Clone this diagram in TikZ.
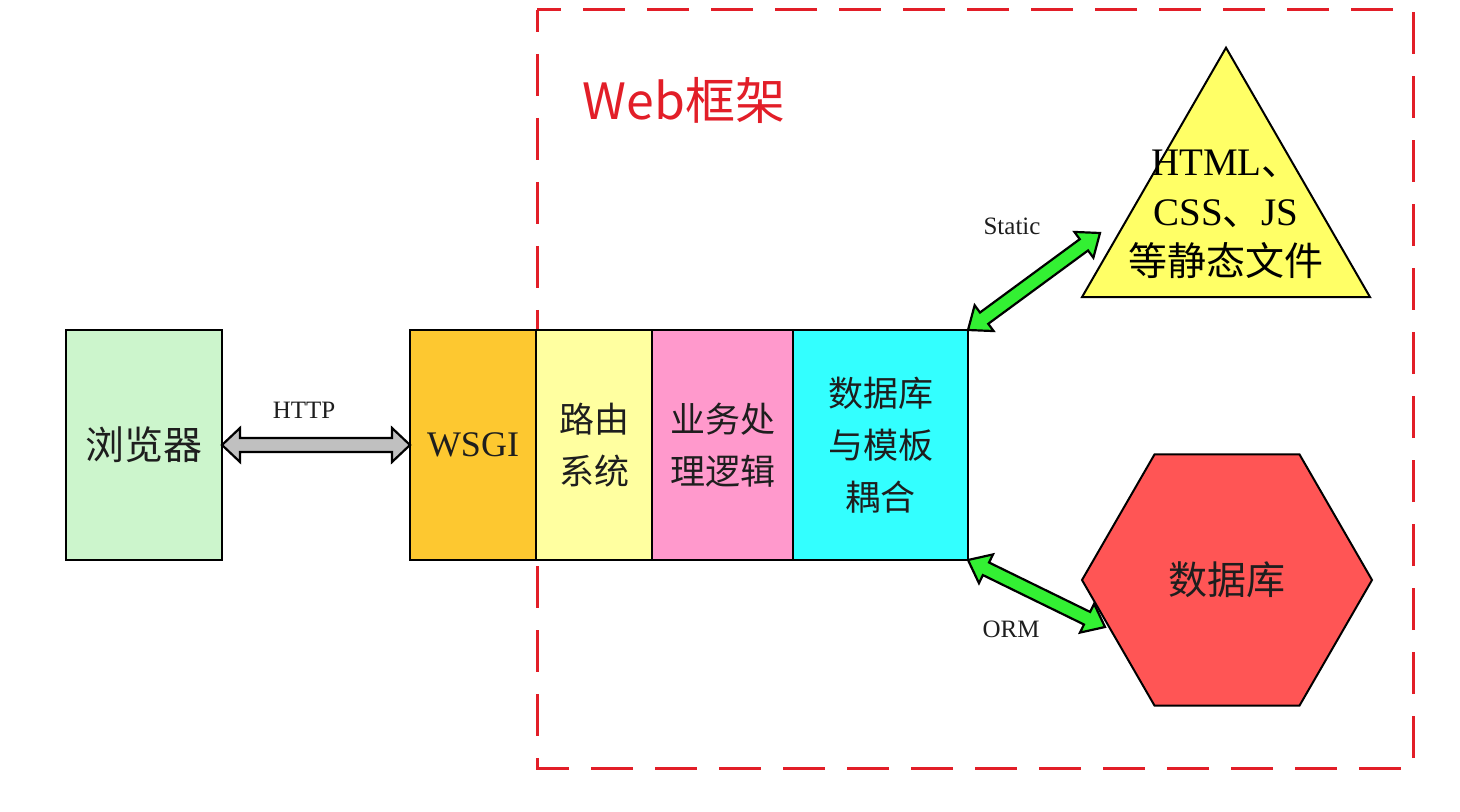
\documentclass[tikz,border=0pt]{standalone}
\usepackage{fontspec}
\setmainfont{Liberation Serif}
\newfontfamily\cjk{Noto Sans CJK SC}
\usetikzlibrary{calc,shapes.geometric}
\definecolor{cBrow}{RGB}{204,245,204}
\definecolor{cWsgi}{RGB}{253,200,48}
\definecolor{cRoute}{RGB}{255,255,160}
\definecolor{cLogic}{RGB}{255,153,204}
\definecolor{cDbt}{RGB}{51,255,255}
\definecolor{cTri}{RGB}{255,255,102}
\definecolor{cHex}{RGB}{255,85,85}
\definecolor{cGreen}{RGB}{51,240,51}
\definecolor{cGray}{RGB}{192,192,192}
\definecolor{cRed}{RGB}{226,30,40}
\definecolor{cText}{RGB}{30,30,30}
\newcommand{\myblockarrow}[6]{%
  \coordinate (ba-q) at ($(#1)!#4!(#2)$);
  \coordinate (ba-r) at ($(#2)!#4!(#1)$);
  \draw[#3] (#1) -- ($(ba-q)!#5!90:(#2)$) -- ($(ba-q)!#6!90:(#2)$)
    -- ($(ba-r)!#6!-90:(#1)$) -- ($(ba-r)!#5!-90:(#1)$) -- (#2)
    -- ($(ba-r)!#5!90:(#1)$) -- ($(ba-r)!#6!90:(#1)$)
    -- ($(ba-q)!#6!-90:(#2)$) -- ($(ba-q)!#5!-90:(#2)$) -- cycle;
}
\tikzset{
  box/.style={draw=black, line width=1pt, rectangle, minimum height=115pt,
    inner sep=0pt, outer sep=0pt, align=center, text=cText,
    font=\cjk\fontsize{17.5pt}{26pt}\selectfont},
  lbl/.style={font=\fontsize{12.5pt}{14pt}\selectfont, text=cText, inner sep=0pt},
  grayarrow/.style={draw=black, line width=1.1pt, fill=cGray, line join=miter},
  greenarrow/.style={draw=black, line width=1.1pt, fill=cGreen, line join=miter},
}
\begin{document}
\begin{tikzpicture}[x=0.5pt, y=-0.5pt]
\useasboundingbox (0,0) rectangle (1460,812);
% web framework frame
\draw[cRed, line width=1.5pt, dash pattern=on 21pt off 11pt, dash phase=10pt] (537,10) rectangle (1413,768);
\node[text=cRed, font=\cjk\fontsize{25pt}{30pt}\selectfont, inner sep=0pt] (title) at (684,100) {Web框架};
% boxes
\node[box, fill=cBrow, minimum width=78pt, font=\cjk\fontsize{19.5pt}{26pt}\selectfont] (brow) at (144,445) {浏览器};
\node[box, fill=cWsgi, minimum width=63pt, font=\fontsize{18pt}{26pt}\selectfont] (wsgi) at (473,445) {WSGI};
\node[box, fill=cRoute, minimum width=58pt] (route) at (594,445) {路由\\系统};
\node[box, fill=cLogic, minimum width=70.5pt] (logic) at (722.5,445) {业务处\\理逻辑};
\node[box, fill=cDbt, minimum width=87.5pt] (dbt) at (880.5,445) {数据库\\与模板\\耦合};
% static files triangle
\node[regular polygon, regular polygon sides=3, draw=black, line width=1pt, fill=cTri,
  minimum size=166.3pt, inner sep=0pt, outer sep=0pt] (tri) at (1226,214) {};
\node[align=center, inner sep=0pt, text=black, font=\fontsize{19.5pt}{25pt}\selectfont] (tritext) at (1226,214)
  {HTML{\cjk 、}\\CSS{\cjk 、}JS\\{\cjk 等静态文件}};
% database hexagon
\node[regular polygon, regular polygon sides=6, draw=black, line width=1pt, fill=cHex,
  minimum size=145pt, inner sep=0pt, outer sep=0pt, text=cText,
  font=\cjk\fontsize{19.5pt}{26pt}\selectfont] (hex) at (1227,580) {数据库};
% free arrow ends
\coordinate (st) at (1100,233);
\coordinate (ot) at (1105,627);
% connectors
\myblockarrow{brow.east}{wsgi.west}{grayarrow}{9pt}{8.5pt}{3.5pt}
\myblockarrow{dbt.north east}{st}{greenarrow}{10pt}{8pt}{3.5pt}
\myblockarrow{dbt.south east}{ot}{greenarrow}{10pt}{8pt}{3.5pt}
% labels
\node[lbl] (lhttp) at (304,410) {HTTP};
\node[lbl] (lstatic) at (1012,226) {Static};
\node[lbl] (lorm) at (1011,629) {ORM};
\end{tikzpicture}
\end{document}
